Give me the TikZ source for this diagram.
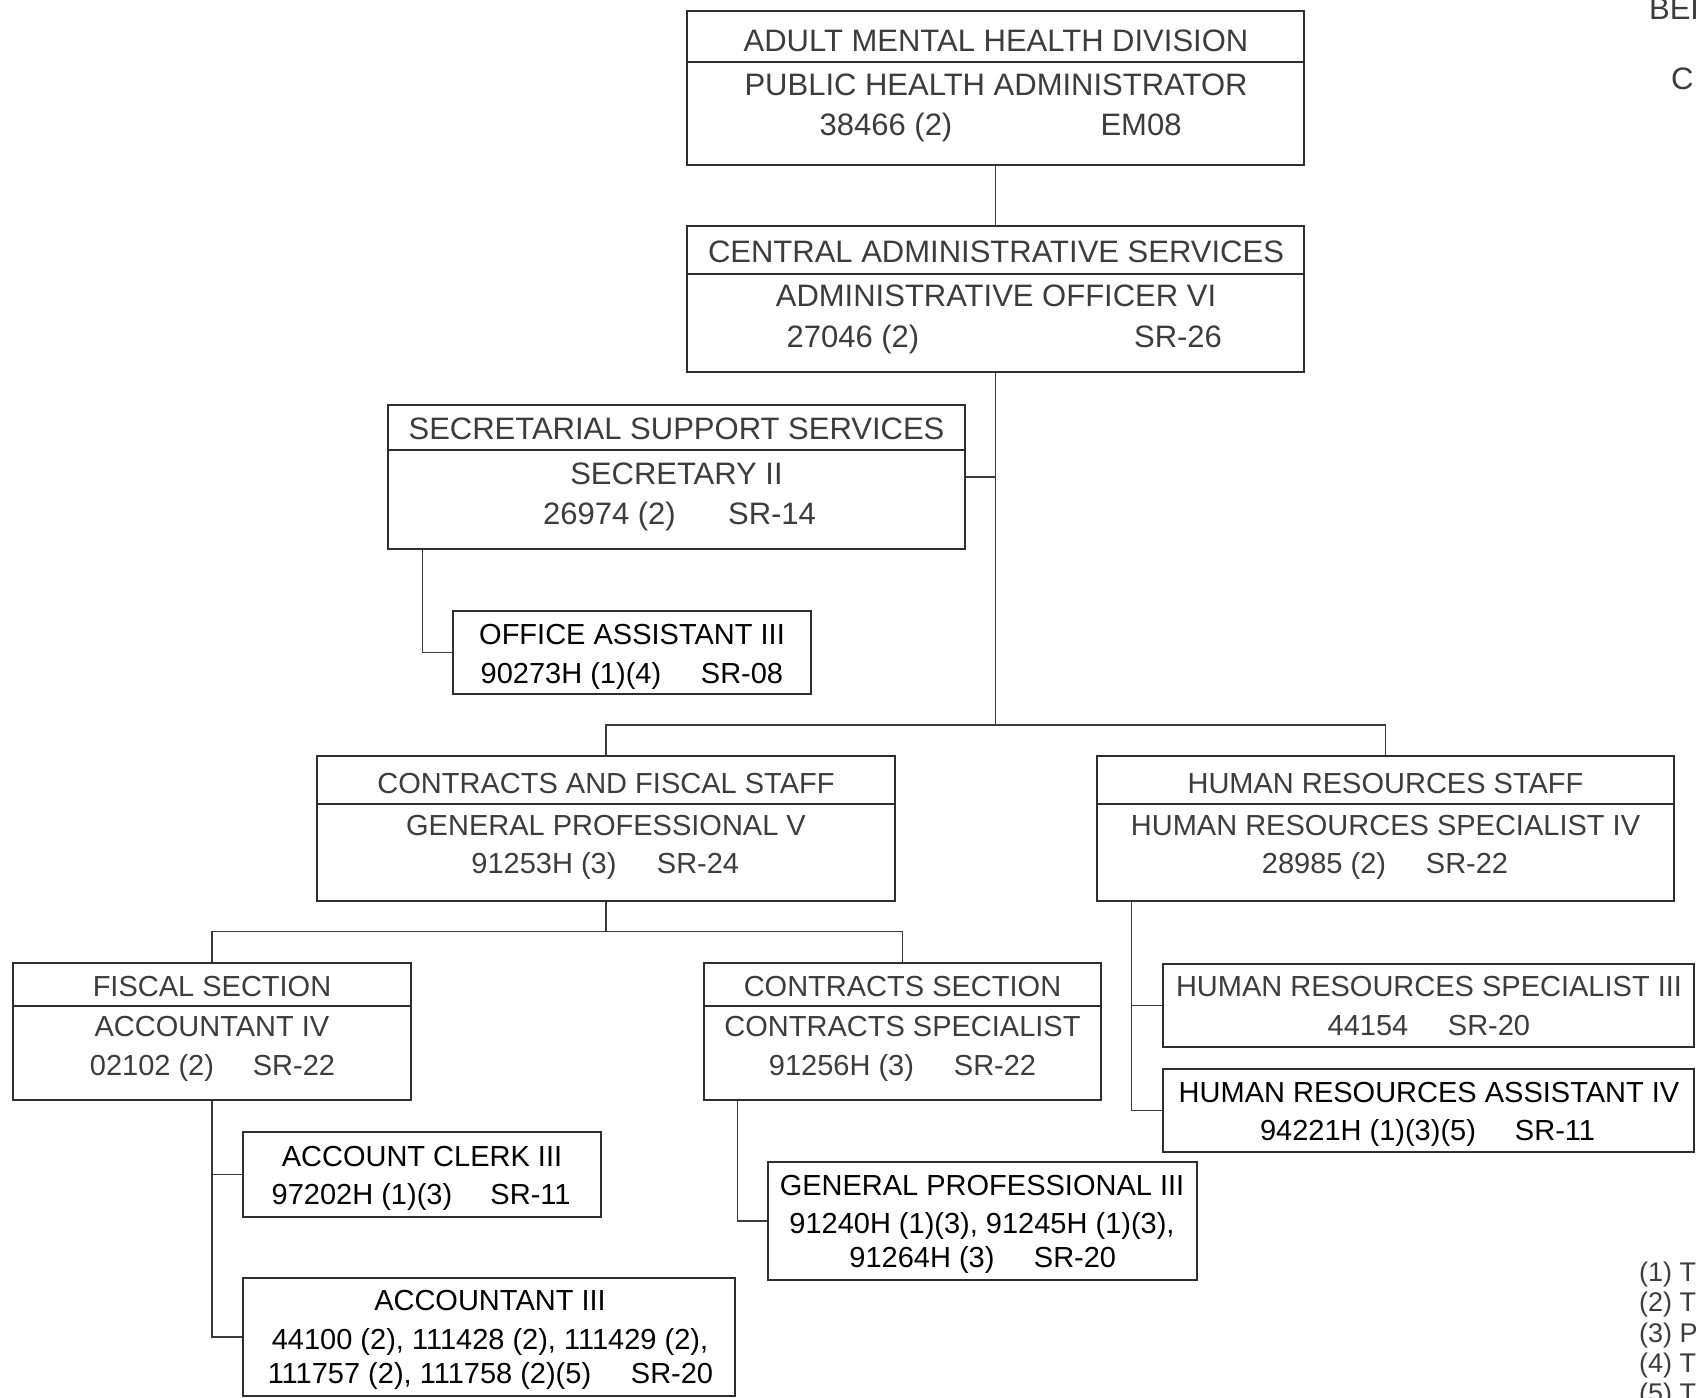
\documentclass[tikz,border=0pt]{standalone}
\usepackage{fontspec}
\setmainfont{Liberation Sans}
\usetikzlibrary{calc}
\definecolor{boxline}{HTML}{2E2E2E}
\definecolor{linkline}{HTML}{3A3A3A}
\definecolor{greytext}{HTML}{3C3C3C}
\def\bigtext{\fontsize{31}{36}\selectfont}
\def\smalltext{\fontsize{29}{34}\selectfont}
\def\notetext{\fontsize{27}{31}\selectfont}

\begin{document}
\begin{tikzpicture}[x=1pt, y=-1pt,
	box/.style={draw=boxline, line width=1.4pt, inner sep=0pt},
	link/.style={draw=linkline, line width=1.3pt},
	divider/.style={draw=boxline, line width=1.2pt},
	head/.style={inner sep=0pt, text height=22.2pt, text depth=0pt, text=greytext, font=\bigtext},
	sub/.style={inner sep=0pt, text height=20.8pt, text depth=0pt, text=greytext, font=\smalltext},
	post/.style={inner sep=0pt, text height=20.8pt, text depth=0pt, text=black, font=\smalltext}]
			%%%%% START %%%%%
			\useasboundingbox (0, 0) rectangle (1696, 1397);
			\clip (0, 0) rectangle (1696, 1397);
			
			% boxes
			\node[box, minimum width=617pt, minimum height=154pt] (adm) at (995.5, 88) {};
			\node[box, minimum width=617pt, minimum height=146pt] (cas) at (995.5, 299) {};
			\node[box, minimum width=577pt, minimum height=144pt] (sec) at (676.5, 477) {};
			\node[box, minimum width=358pt, minimum height=83pt] (off) at (632, 652.5) {};
			\node[box, minimum width=578pt, minimum height=145pt] (cfs) at (606, 828.5) {};
			\node[box, minimum width=577pt, minimum height=145pt] (hr) at (1385.5, 828.5) {};
			\node[box, minimum width=398pt, minimum height=137pt] (fis) at (212, 1031.5) {};
			\node[box, minimum width=397pt, minimum height=137pt] (con) at (902.5, 1031.5) {};
			\node[box, minimum width=531pt, minimum height=83pt] (hrs) at (1428.5, 1005.5) {};
			\node[box, minimum width=531pt, minimum height=83pt] (hra) at (1428.5, 1110.5) {};
			\node[box, minimum width=358pt, minimum height=85pt] (clerk) at (422, 1174.5) {};
			\node[box, minimum width=492pt, minimum height=118pt] (acc) at (489, 1337) {};
			\node[box, minimum width=429pt, minimum height=118pt] (gp) at (982.5, 1221) {};
			
			% dividers
			\draw[divider] (adm.west |- 0, 62) -- (adm.east |- 0, 62);
			\draw[divider] (cas.west |- 0, 274) -- (cas.east |- 0, 274);
			\draw[divider] (sec.west |- 0, 450) -- (sec.east |- 0, 450);
			\draw[divider] (cfs.west |- 0, 804) -- (cfs.east |- 0, 804);
			\draw[divider] (hr.west |- 0, 804) -- (hr.east |- 0, 804);
			\draw[divider] (fis.west |- 0, 1006) -- (fis.east |- 0, 1006);
			\draw[divider] (con.west |- 0, 1006) -- (con.east |- 0, 1006);
			
			% texts
			\node[head] at (996, 40) {ADULT MENTAL HEALTH DIVISION};
			\node[head] at (996, 84) {PUBLIC HEALTH ADMINISTRATOR};
			\node[head] at (886, 124) {38466 (2)};
			\node[head] at (1141, 124) {EM08};
			
			\node[head] at (996, 251) {CENTRAL ADMINISTRATIVE SERVICES};
			\node[head] at (996, 295) {ADMINISTRATIVE OFFICER VI};
			\node[head] at (853, 336) {27046 (2)};
			\node[head] at (1178, 336) {SR-26};
			
			\node[head] at (676.5, 428) {SECRETARIAL SUPPORT SERVICES};
			\node[head] at (676.5, 473) {SECRETARY II};
			\node[head] at (609.5, 513) {26974 (2)};
			\node[head] at (772, 513) {SR-14};
			
			\node[post] at (632, 634) {OFFICE ASSISTANT III};
			\node[post] at (571, 673) {90273H (1)(4)};
			\node[post] at (742, 673) {SR-08};
			
			\node[sub] at (606, 783) {CONTRACTS AND FISCAL STAFF};
			\node[sub] at (606, 825) {GENERAL PROFESSIONAL V};
			\node[sub] at (544, 863) {91253H (3)};
			\node[sub] at (698, 863) {SR-24};
			
			\node[sub] at (1385.5, 783) {HUMAN RESOURCES STAFF};
			\node[sub] at (1385.5, 825) {HUMAN RESOURCES SPECIALIST IV};
			\node[sub] at (1324, 863) {28985 (2)};
			\node[sub] at (1467, 863) {SR-22};
			
			\node[sub] at (212, 986) {FISCAL SECTION};
			\node[sub] at (212, 1026) {ACCOUNTANT IV};
			\node[sub] at (152, 1065) {02102 (2)};
			\node[sub] at (294, 1065) {SR-22};
			
			\node[sub] at (902.5, 986) {CONTRACTS SECTION};
			\node[sub] at (902.5, 1026) {CONTRACTS SPECIALIST};
			\node[sub] at (841.5, 1065) {91256H (3)};
			\node[sub] at (995, 1065) {SR-22};
			
			\node[sub] at (1429, 986) {HUMAN RESOURCES SPECIALIST III};
			\node[sub] at (1368, 1025) {44154};
			\node[sub] at (1489, 1025) {SR-20};
			
			\node[post] at (1429, 1092) {HUMAN RESOURCES ASSISTANT IV};
			\node[post] at (1368, 1130) {94221H (1)(3)(5)};
			\node[post] at (1555, 1130) {SR-11};
			
			\node[post] at (422, 1156) {ACCOUNT CLERK III};
			\node[post] at (362, 1194) {97202H (1)(3)};
			\node[post] at (530.5, 1194) {SR-11};
			
			\node[post] at (490, 1300) {ACCOUNTANT III};
			\node[post] at (490, 1339) {44100 (2), 111428 (2), 111429 (2),};
			\node[post] at (429.5, 1373) {111757 (2), 111758 (2)(5)};
			\node[post] at (672, 1373) {SR-20};
			
			\node[post] at (982, 1185) {GENERAL PROFESSIONAL III};
			\node[post] at (982, 1223) {91240H (1)(3), 91245H (1)(3),};
			\node[post] at (922, 1257) {91264H (3)};
			\node[post] at (1075, 1257) {SR-20};
			
			% edge notes
			\node[head, anchor=west] at (1649, 8) {BEH};
			\node[head, anchor=west] at (1671, 78) {C};
			\foreach \n/\t [count=\i from 0] in {1/T, 2/T, 3/P, 4/T, 5/T}
				\node[inner sep=0pt, text height=19.3pt, text depth=0pt, text=greytext, font=\notetext, anchor=west] at (1639, 1272+30.3*\i) {(\n) \t};
			
			% connectors
			\draw[link] (adm.south) -- (cas.north);
			\coordinate (bus) at (cas.south |- 0, 725);
			\draw[link] (cas.south) -- (bus);
			\draw[link] (sec.east) -- (sec.east -| cas.south);
			\draw[link] ($(sec.south west)+(35, 0)$) |- (off.west);
			\draw[link] (cfs.north) -- (cfs.north |- bus) -| (hr.north);
			\draw[link] (cfs.south) -- ++(0, 30) -| (fis.north);
			\draw[link] ($(cfs.south)+(0, 30)$) -| (con.north);
			\draw[link] (fis.south) |- (acc.west);
			\draw[link] (fis.south |- clerk.west) -- (clerk.west);
			\draw[link] ($(con.south west)+(34, 0)$) |- (gp.west);
			\coordinate (hrtrunk) at ($(hr.south west)+(35, 0)$);
			\draw[link] (hrtrunk) |- (hra.west);
			\draw[link] (hrtrunk |- hrs.west) -- (hrs.west);
			
			%%%%% END %%%%%
\end{tikzpicture}
\end{document}
